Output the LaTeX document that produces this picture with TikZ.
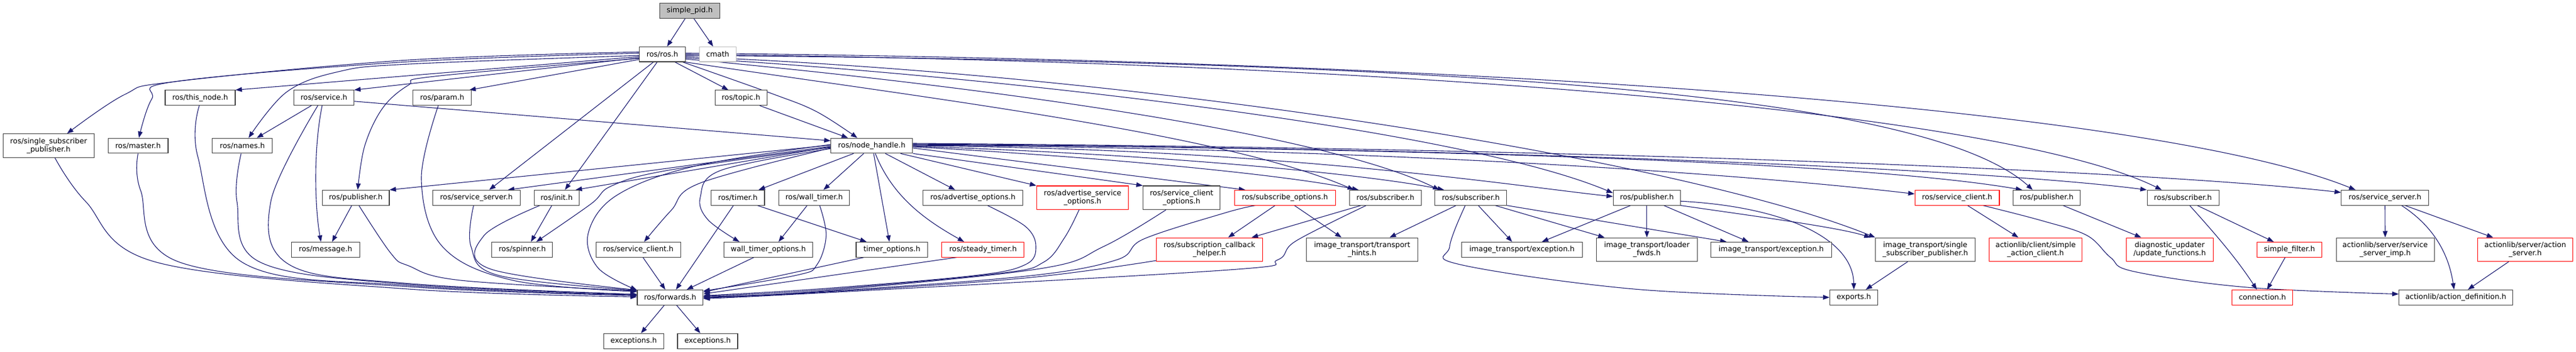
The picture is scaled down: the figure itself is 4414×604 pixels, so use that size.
\documentclass[tikz,border=0pt]{standalone}
\usepackage{fontspec}
\newfontfamily\dvs{DejaVu Sans}
\usetikzlibrary{arrows.meta,backgrounds}
\definecolor{doxblue}{HTML}{191970}
\definecolor{doxred}{HTML}{FF0000}
\definecolor{doxgrey}{HTML}{BFBFBF}
\definecolor{nodeline}{HTML}{404040}
\newcommand\gfont{\dvs\fontsize{6.25pt}{6.9pt}\selectfont}
\tikzset{
 nb/.style={draw=nodeline, fill=white, line width=0.55pt, inner sep=0pt, minimum height=12.85pt, align=center, font=\gfont, text=black},
 two/.style={minimum height=20.25pt},
 trunc/.style={draw=doxred},
 bw/.style={minimum width=#1*0.5pt},
 dep/.style={draw=doxblue, line width=0.55pt, -{Triangle[length=5.5pt,width=4pt]}},
 sm/.style={smooth,tension=0.6}
}
\begin{document}
\begin{tikzpicture}[x=0.5pt,y=-0.5pt]
\useasboundingbox (0,0) rectangle (4414,604);
% row 0/1
\node[nb,bw=103,fill=doxgrey] (pid) at (1181.8,18.5) {simple\_pid.h};
\node[nb,bw=78.6] (ros) at (1135,93.2) {ros/ros.h};
\node[nb,bw=63,draw=doxgrey] (cmath) at (1229.8,93.2) {cmath};
% row 2
\node[nb,bw=120] (thisnode) at (343,167.8) {ros/this\_node.h};
\node[nb,bw=102.7] (service) at (555,167.8) {ros/service.h};
\node[nb,bw=100] (param) at (757.6,167.8) {ros/param.h};
\node[nb,bw=89.3] (topic) at (1269.7,167.8) {ros/topic.h};
% row 3
\node[nb,two,bw=155.8] (ssp) at (83.3,250) {ros/single\_subscriber\\\_publisher.h};
\node[nb,bw=102.7] (master) at (236.6,250) {ros/master.h};
\node[nb,bw=102.7] (names) at (415.2,250) {ros/names.h};
\node[nb,bw=140] (nh) at (1493.8,250) {ros/node\_handle.h};
% row 4
\node[nb,bw=114.7] (pub1) at (609.6,339.2) {ros/publisher.h};
\node[nb,bw=149.5] (ss1) at (816.3,339.2) {ros/service\_server.h};
\node[nb,bw=77.2] (init) at (953.8,339.2) {ros/init.h};
\node[nb,bw=91.3] (timer) at (1264.3,339.2) {ros/timer.h};
\node[nb,bw=121.5] (walltimer) at (1395,339.2) {ros/wall\_timer.h};
\node[nb,bw=170.5] (advopt) at (1667,339.2) {ros/advertise\_options.h};
\node[nb,two,trunc,bw=157.6] (advsrv) at (1855,339.2) {ros/advertise\_service\\\_options.h};
\node[nb,two,bw=132] (scopt) at (2024.6,339.2) {ros/service\_client\\\_options.h};
\node[nb,trunc,bw=173.2] (subopt) at (2201.8,339.2) {ros/subscribe\_options.h};
\node[nb,bw=122.8] (sub1) at (2373.9,339.2) {ros/subscriber.h};
\node[nb,bw=122.8] (sub2) at (2520.3,339.2) {ros/subscriber.h};
\node[nb,bw=115.2] (pub2) at (2821.9,339.2) {ros/publisher.h};
\node[nb,trunc,bw=144.6] (sc2) at (3353.6,339.2) {ros/service\_client.h};
\node[nb,bw=115] (pub3) at (3507,339.2) {ros/publisher.h};
\node[nb,bw=123] (sub3) at (3740.5,339.2) {ros/subscriber.h};
\node[nb,bw=149.8] (ss2) at (4086.7,339.2) {ros/service\_server.h};
% row 5
\node[nb,bw=117.4] (message) at (557.8,428.3) {ros/message.h};
\node[nb,bw=104] (spinner) at (894.9,428.3) {ros/spinner.h};
\node[nb,bw=144.7] (sc1) at (1093.7,428.3) {ros/service\_client.h};
\node[nb,bw=152.4] (wto) at (1316.5,428.3) {wall\_timer\_options.h};
\node[nb,bw=122.7] (timeropt) at (1528.3,428.3) {timer\_options.h};
\node[nb,trunc,bw=141] (steady) at (1684.4,428.3) {ros/steady\_timer.h};
\node[nb,two,trunc,bw=181.3] (sch) at (2072.4,428.3) {ros/subscription\_callback\\\_helper.h};
\node[nb,two,bw=191] (hints) at (2334,428.3) {image\_transport/transport\\\_hints.h};
\node[nb,bw=207] (exc1) at (2608,428.3) {image\_transport/exception.h};
\node[nb,two,bw=172.3] (loader) at (2821.9,428.3) {image\_transport/loader\\\_fwds.h};
\node[nb,bw=206.7] (exc2) at (3035,428.3) {image\_transport/exception.h};
\node[nb,two,bw=170.5] (itssp) at (3299,428.3) {image\_transport/single\\\_subscriber\_publisher.h};
\node[nb,two,trunc,bw=158.7] (sac) at (3488,428.3) {actionlib/client/simple\\\_action\_client.h};
\node[nb,two,trunc,bw=148.6] (upd) at (3717.7,428.3) {diagnostic\_updater\\/update\_functions.h};
\node[nb,trunc,bw=110.8] (sfilter) at (3923,428.3) {simple\_filter.h};
\node[nb,two,bw=168] (ssimp) at (4087,428.3) {actionlib/server/service\\\_server\_imp.h};
\node[nb,two,trunc,bw=163.2] (aserver) at (4327,428.3) {actionlib/server/action\\\_server.h};
% row 6
\node[nb,bw=112.7] (fwd) at (1148.3,510.3) {ros/forwards.h};
\node[nb,bw=82.6] (exports) at (3176.6,510.3) {exports.h};
\node[nb,trunc,bw=103.8] (conn) at (3876.6,510.3) {connection.h};
\node[nb,bw=194.7] (adef) at (4208,510.3) {actionlib/action\_definition.h};
% row 7
\node[nb,bw=103] (exa) at (1085.8,585.2) {exceptions.h};
\node[nb,bw=103] (exb) at (1212.5,585.2) {exceptions.h};

\begin{pgfonlayer}{background}
% simple_pid
\draw[dep] ([xshift=-3.9pt]pid.south) -- ([xshift=4pt]ros.north);
\draw[dep] ([xshift=3.6pt]pid.south) -- ([xshift=-3.9pt]cmath.north);
% ros.h
\draw[dep] ([xshift=10.8pt]ros.south) -- ([xshift=-10.8pt]topic.north);
\draw[dep] plot[sm] coordinates {([xshift=17.5pt]ros.south) (1325,161.5) (1400,192) ([xshift=-12.4pt]nh.north)};
\draw[dep] ([yshift=-4.4pt]ros.west) -- ([xshift=-2pt]param.north east);
\draw[dep] ([yshift=-3pt]ros.west) -- (service.north east);
\draw[dep] ([yshift=-2pt]ros.west) -- (thisnode.north east);
\draw[dep] plot[sm] coordinates {([yshift=-1pt]ros.west) (700,110) (580,123) (491,158) ([xshift=5.4pt]names.north)};
\draw[dep] plot[sm] coordinates {([yshift=1pt]ros.west) (700,106) (300,140) (260,170) ([xshift=0.7pt]master.north)};
\draw[dep] plot[sm] coordinates {([yshift=2pt]ros.west) (700,103) (300,140) (214,162) ([xshift=15.8pt]ssp.north)};
\draw[dep] plot[sm] coordinates {([yshift=-3.5pt]ros.west) (745,131) (700,146) (656,185) (625,250) ([xshift=1.7pt]pub1.north)};
\draw[dep] ([xshift=-7.7pt]ros.south) -- ([xshift=11pt]ss1.north);
\draw[dep] ([xshift=-4.5pt]ros.south) -- ([xshift=7.1pt]init.north);
\draw[dep] (ros.south east) .. controls (1600,170) and (2100,230) .. ([xshift=-27pt]sub1.north);
\draw[dep] ([yshift=-4pt]ros.east) .. controls (1600,140) and (2250,220) .. ([xshift=-27pt]sub2.north);
\draw[dep] ([yshift=-3pt]ros.east) .. controls (1700,130) and (2500,220) .. ([yshift=4pt]pub2.west);
\draw[dep] ([yshift=-2pt]ros.east) .. controls (2000,130) and (2900,280) .. (itssp.north west);
\draw[dep] ([yshift=-1pt]ros.east) .. controls (2500,105) and (3300,160) .. ([xshift=-12pt]pub3.north);
\draw[dep] (ros.east) .. controls (2500,108) and (3450,200) .. ([xshift=-18.2pt]sub3.north);
\draw[dep] ([yshift=1pt]ros.east) .. controls (2600,105) and (3700,190) .. ([xshift=-25.3pt]ss2.north);
% service.h
\draw[dep] ([xshift=-10.75pt]service.south) -- ([xshift=12.4pt]names.north);
\draw[dep] ([xshift=-1.5pt]service.south) .. controls (536,260) and (540,360) .. ([xshift=-3.9pt]message.north);
\draw[dep] plot[sm] coordinates {([xshift=-5.2pt]service.south) (464,346) (495.5,454) (700,486.5) ([yshift=2.6pt]fwd.west)};
\draw[dep] ([yshift=-3pt]service.east) -- ([yshift=4.25pt]nh.west);
% topic
\draw[dep] ([xshift=16pt]topic.south) -- ([xshift=-20.4pt]nh.north);
% left nodes into forwards
\draw[dep] plot[sm] coordinates {([xshift=-0.75pt]thisnode.south) (339,269) (415,450) (700,490) ([yshift=2pt]fwd.west)};
\draw[dep] plot[sm] coordinates {(master.south) (241,327) (308,450) (700,492) ([yshift=1.5pt]fwd.west)};
\draw[dep] plot[sm] coordinates {([xshift=5.4pt]ssp.south) (147,346) (268,450) (700,496) ([yshift=0.5pt]fwd.west)};
\draw[dep] plot[sm] coordinates {([xshift=-1pt]names.south) (406,346) (446,450) (700,488) ([yshift=2.5pt]fwd.west)};
\draw[dep] plot[sm] coordinates {([xshift=-3.3pt]param.south) (722,308) (758,423) (878.6,481) ([yshift=5pt]fwd.west)};
\draw[dep] plot[sm] coordinates {([xshift=2.7pt]pub1.south) (670,435) (700,456) (789,481) ([yshift=5.5pt]fwd.west)};
\draw[dep] plot[sm] coordinates {([xshift=-2.4pt]ss1.south) (807,423) (856,473) ([yshift=6pt]fwd.west)};
\draw[dep] plot[sm] coordinates {([xshift=-14.4pt]init.south) (829.5,404) (840,461.5) ([yshift=6.3pt]fwd.west)};
\draw[dep] ([xshift=-3.45pt]pub1.south) -- ([xshift=5.6pt]message.north);
\draw[dep] ([xshift=-4.15pt]init.south) -- ([xshift=7.45pt]spinner.north);
% node_handle left
\draw[dep] ([yshift=0.5pt]nh.west) -- (pub1.north east);
\draw[dep] ([yshift=-0.5pt]nh.west) -- ([xshift=-10.7pt]ss1.north east);
\draw[dep] ([yshift=-1pt]nh.west) -- ([xshift=-3.35pt]init.north east);
\draw[dep] plot[sm] coordinates {([yshift=-1.5pt]nh.west) (1146,292) (1048,319) (1012.5,350) ([xshift=12pt]spinner.north)};
\draw[dep] plot[sm] coordinates {([yshift=-2pt]nh.west) (1200,314) (1150,361) ([xshift=5pt]sc1.north)};
\draw[dep] plot[sm] coordinates {([yshift=1pt]nh.west) (1191,285) (1057,335) (1008,400) (1025,460) ([yshift=6.3pt]fwd.west)};
\draw[dep] plot[sm] coordinates {([yshift=-2.5pt]nh.west) (1236,292) (1200,338) (1213,377) ([xshift=-24.75pt]wto.north)};
% node_handle down
\draw[dep] ([xshift=-15.6pt]nh.south) -- ([xshift=17.8pt]timer.north);
\draw[dep] ([xshift=-6.9pt]nh.south) -- ([xshift=8pt]walltimer.north);
\draw[dep] ([xshift=1.6pt]nh.south) -- ([xshift=-2.15pt]timeropt.north);
\draw[dep] ([xshift=3pt]nh.south) .. controls (1530,340) and (1590,380) .. ([xshift=-16.2pt]steady.north);
\draw[dep] ([xshift=11.6pt]nh.south) -- ([xshift=-15.2pt]advopt.north);
\draw[dep] ([xshift=24.6pt]nh.south) -- (advsrv.north west);
\draw[dep] (nh.south east) -- (scopt.north west);
% node_handle right
\draw[dep] ([yshift=-2pt]nh.east) -- ([xshift=-34pt]subopt.north);
\draw[dep] ([yshift=-1pt]nh.east) .. controls (1900,270) and (2200,300) .. ([xshift=-23pt]sub1.north);
\draw[dep] ([yshift=-0.5pt]nh.east) .. controls (2000,265) and (2350,300) .. ([xshift=-23pt]sub2.north);
\draw[dep] (nh.east) .. controls (2200,255) and (2600,320) .. ([yshift=1pt]pub2.west);
\draw[dep] ([yshift=0.5pt]nh.east) .. controls (2400,255) and (3000,300) .. ([yshift=3.2pt]sc2.west);
\draw[dep] ([yshift=1pt]nh.east) .. controls (2500,255) and (3200,280) .. ([xshift=-21pt]pub3.north);
\draw[dep] ([yshift=1.5pt]nh.east) .. controls (2600,255) and (3400,290) .. (sub3.north west);
\draw[dep] ([yshift=2pt]nh.east) .. controls (2800,255) and (3700,295) .. ([yshift=4.5pt]ss2.west);
% into forwards from right
\draw[dep] ([xshift=-3.8pt]timer.south) -- ([xshift=5pt]fwd.north);
\draw[dep] ([xshift=4pt]sc1.south) -- ([xshift=-4.15pt]fwd.north);
\draw[dep] ([xshift=-12.4pt]wto.south) -- ([xshift=14.2pt]fwd.north);
\draw[dep] plot[sm] coordinates {([xshift=4.75pt]walltimer.south) (1415.6,404) (1400,454) (1366,472) ([yshift=5.5pt]fwd.east)};
\draw[dep] ([xshift=-24pt]timeropt.south) -- ([yshift=4.5pt]fwd.east);
\draw[dep] ([xshift=-22.8pt]steady.south) -- ([yshift=3pt]fwd.east);
\draw[dep] plot[sm] coordinates {([xshift=12.5pt]advopt.south) (1757,388.5) (1775,423) (1757,454) (1668,473) (1400,496) ([yshift=1.5pt]fwd.east)};
\draw[dep] plot[sm] coordinates {([xshift=-3pt]advsrv.south) (1824,408) (1788,450) (1712.5,469) (1400,498) ([yshift=1pt]fwd.east)};
\draw[dep] plot[sm] coordinates {([xshift=-13.3pt]scopt.south) (1891,423) (1779,461.5) (1400,500) ([yshift=0.5pt]fwd.east)};
\draw[dep] plot[sm] coordinates {([yshift=1pt]sch.south west) (1757,477) (1400,502) (fwd.east)};
\draw[dep] plot[sm] coordinates {([xshift=-25.4pt]subopt.south) (2100,365) (1960,410) (1913,446) (1757,474) (1400,501) ([yshift=-0.5pt]fwd.east)};
\draw[dep] plot[sm] coordinates {([xshift=-16.5pt]sub1.south) (2220.5,413.5) (2189,446) (2100,463.5) (1400,503) ([yshift=-1pt]fwd.east)};
% timers
\draw[dep] ([xshift=16.85pt]timer.south) -- ([xshift=-21.75pt]timeropt.north);
\draw[dep] ([xshift=-6pt]walltimer.south) -- ([xshift=8.75pt]wto.north);
% subscribe options / subscribers
\draw[dep] ([xshift=-8.5pt]subopt.south) -- ([xshift=16pt]sch.north);
\draw[dep] ([xshift=8.1pt]subopt.south) -- ([xshift=-17.65pt]hints.north);
\draw[dep] ([xshift=-20.95pt]sub1.south) -- ([xshift=36.1pt]sch.north);
\draw[dep] ([xshift=-12.65pt]sub2.south) -- ([xshift=23.5pt]hints.north);
\draw[dep] plot[sm] coordinates {([xshift=-4.8pt]sub2.south) (2484,423) (2502,454) (2800,496) (exports.west)};
\draw[dep] ([xshift=6.35pt]sub2.south) -- ([xshift=-8.5pt]exc1.north);
\draw[dep] ([xshift=20.85pt]sub2.south) -- ([xshift=-36.2pt]loader.north);
\draw[dep] (sub2.south east) -- ([xshift=-38.25pt]exc2.north);
% image_transport publisher
\draw[dep] ([xshift=-13.95pt]pub2.south) -- ([xshift=17pt]exc1.north);
\draw[dep] (pub2.south) -- (loader.north);
\draw[dep] ([xshift=14.55pt]pub2.south) -- ([xshift=-19.5pt]exc2.north);
\draw[dep] (pub2.south east) .. controls (3000,370) and (3150,390) .. ([xshift=-4pt]itssp.north west);
\draw[dep] ([yshift=-3pt]pub2.east) .. controls (3060,355) and (3175,410) .. (exports.north);
\draw[dep] ([xshift=-15.1pt]itssp.south) -- ([xshift=10.2pt]exports.north);
% actionlib / diagnostics / filters
\draw[dep] ([xshift=8.9pt]sc2.south) -- ([xshift=-14.75pt]sac.north);
\draw[dep] plot[sm] coordinates {([xshift=22.2pt]sc2.south) (3500,379) (3576,404) (3616.6,442) (3657,466) (3850,493) ([yshift=2.85pt]adef.west)};
\draw[dep] ([xshift=14pt]pub3.south) -- ([xshift=-24.35pt]upd.north);
\draw[dep] ([xshift=5.75pt]sub3.south) .. controls (3790,395) and (3830,440) .. ([xshift=-4.8pt]conn.north);
\draw[dep] ([xshift=12.25pt]sub3.south) -- ([xshift=-13.5pt]sfilter.north);
\draw[dep] ([xshift=-3.7pt]sfilter.south) -- ([xshift=4pt]conn.north);
\draw[dep] (ss2.south) -- (ssimp.north);
\draw[dep] ([xshift=14.15pt]ss2.south) .. controls (4165,385) and (4195,430) .. ([xshift=-1.5pt]adef.north);
\draw[dep] ([xshift=17.15pt]ss2.south) -- ([xshift=-27.5pt]aserver.north);
\draw[dep] ([xshift=-14.2pt]aserver.south) -- ([xshift=10.35pt]adef.north);
% forwards
\draw[dep] ([xshift=-5pt]fwd.south) -- ([xshift=6.25pt]exa.north);
\draw[dep] ([xshift=5.5pt]fwd.south) -- ([xshift=-6.25pt]exb.north);
\end{pgfonlayer}
\end{tikzpicture}
\end{document}
